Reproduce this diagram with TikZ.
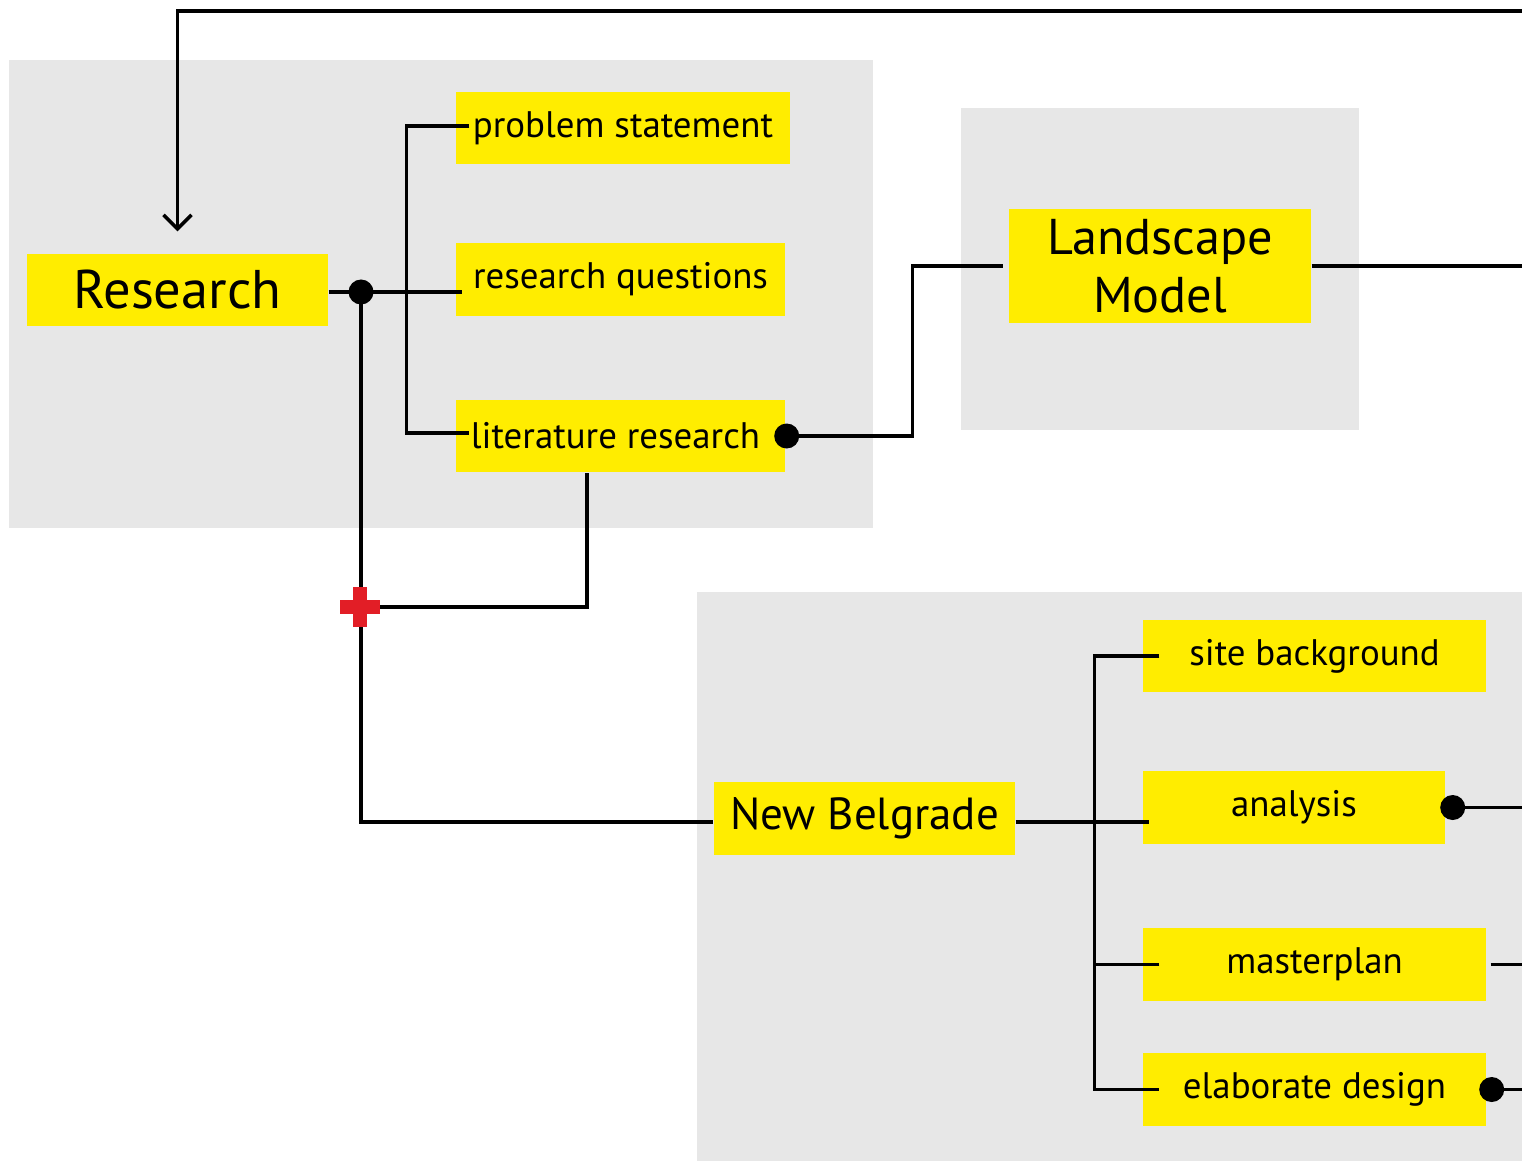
\documentclass[tikz,border=0pt]{standalone}
\usepackage{fontspec}
\setmainfont{PT Sans}
\usepackage{tikz}
\usetikzlibrary{arrows.meta,calc}

\definecolor{boxyellow}{RGB}{255,237,0}
\definecolor{panelgray}{RGB}{231,231,231}
\definecolor{plusred}{RGB}{226,30,38}

\begin{document}
\begin{tikzpicture}[
	task/.style={rectangle,fill=boxyellow,inner sep=0pt,minimum height=0.72cm,font=\fontsize{10.5}{12}\selectfont},
	main/.style={task,font=\fontsize{15.5}{17}\selectfont},
	dot/.style={circle,fill=black,inner sep=0pt,minimum size=0.25cm},
	link/.style={line width=1pt},
	]
	\useasboundingbox (0,0) rectangle (15.22,-11.61);

	% panels
	\fill[panelgray] (0.09,-0.60) rectangle (8.73,-5.28);
	\fill[panelgray] (9.61,-1.08) rectangle (13.59,-4.30);
	\fill[panelgray] (6.97,-5.92) rectangle (15.22,-11.61);

		\node[main,minimum width=3.01cm] (research) at (1.775,-2.90) {Research};
		\node[task,minimum width=3.34cm] (prob) at (6.23,-1.28) {problem statement};
		\node[task,minimum width=3.29cm,minimum height=0.73cm] (rq) at (6.205,-2.795) {research questions};
		\node[task,minimum width=3.29cm] (lit) at (6.205,-4.36) {\hspace*{-1mm}literature research};
		\node[main,minimum width=3.02cm,minimum height=1.14cm,align=center,font=\fontsize{14.3}{16.5}\selectfont] (land) at (11.60,-2.66) {Landscape\\Model};
		\node[task,minimum width=3.01cm,minimum height=0.73cm,font=\fontsize{12.8}{15}\selectfont] (nb) at (8.645,-8.185) {New Belgrade};
		\node[task,minimum width=3.43cm] (site) at (13.145,-6.56) {site background};
		\node[task,minimum width=3.02cm,minimum height=0.73cm] (anal) at (12.94,-8.075) {analysis};
		\node[task,minimum width=3.43cm,minimum height=0.73cm] (master) at (13.145,-9.645) {masterplan};
		\node[task,minimum width=3.43cm,minimum height=0.73cm] (elab) at (13.145,-10.895) {elaborate design};

		\coordinate (loopin) at (15.22,-0.11);
		\coordinate (rightedge) at (15.22,0);
		\coordinate (plus) at (3.60,-6.07);

		% feedback loop
		\draw[link,-{Straight Barb[length=1.4mm,width=2.8mm]}] (loopin) -| ([yshift=2.2mm]research.north);

		% research block
		\draw[link] ([yshift=-0.2mm]research.east) -- ([xshift=0.7mm,yshift=-0.2mm]research.east -| rq.west);
		\draw[link] ([xshift=1.4mm,yshift=0.2mm]prob.west) -- ++(-0.63,0) |- ([xshift=1.4mm,yshift=0.3mm]lit.west);
		\draw[link] (3.61,-2.92) |- ([yshift=-0.35mm]nb.west);
		\draw[link] (plus) -| ([xshift=-3.35mm]lit.south);
		\draw[link] (lit.east) -- ++(1.27,0) |- ([xshift=-0.5mm]land.west);
		\draw[link] (land.east) -- (rightedge |- land.east);

		% new belgrade block
		\draw[link] ([yshift=-0.35mm]nb.east) -- ([xshift=0.7mm,yshift=-0.35mm]nb.east -| anal.west);
		\draw[link] ([xshift=1.7mm]site.west) -- ++(-0.65,0) |- ([xshift=1.7mm]elab.west);
		\draw[link] ([xshift=1.7mm]master.west) -- ++(-0.65,0);
		\draw[link] ([xshift=0.7mm]anal.east) -- (rightedge |- anal.east);
		\draw[link] ([xshift=0.4mm]master.east) -- (rightedge |- master.east);
		\draw[link] ([xshift=0.5mm]elab.east) -- (rightedge |- elab.east);

		\node[dot] (rdot) at (3.61,-2.92) {};
		\node[dot] (litdot) at ([xshift=0.1mm]lit.east) {};
		\node[dot] (analdot) at ([xshift=0.7mm]anal.east) {};
		\node[dot] (elabdot) at ([xshift=0.5mm]elab.east) {};

		\fill[plusred] ($(plus)+(-0.20,-0.07)$) rectangle ($(plus)+(0.20,0.07)$);
		\fill[plusred] ($(plus)+(-0.07,-0.20)$) rectangle ($(plus)+(0.07,0.20)$);

	\end{tikzpicture}
\end{document}
